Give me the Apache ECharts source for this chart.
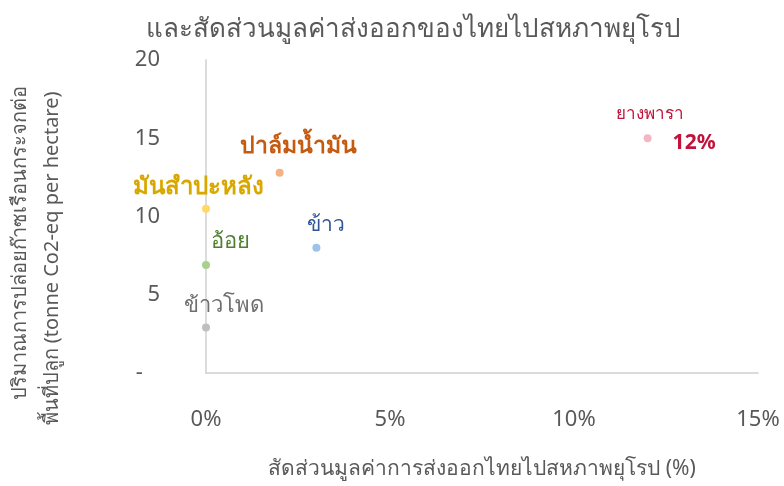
<!DOCTYPE html>
<html>
<head>
<meta charset="utf-8">
<script src="https://cdn.jsdelivr.net/npm/echarts@6/dist/echarts.min.js"></script>
<style>html,body{margin:0;padding:0;background:#fff;}#c{width:784px;height:486px;}</style>
</head>
<body>
<div id="c"></div>
<script>
// ---- data ----
const crops = ['ยางพารา', 'ปาล์มน้ำมัน', 'มันสำปะหลัง', 'ข้าว', 'อ้อย', 'ข้าวโพด'];
const exportShare = [12, 2, 0, 3, 0, 0];          // % of Thai exports to EU
const emission = [15, 12.8, 10.5, 8, 6.9, 2.9];     // tonne CO2-eq per hectare
const xTicks = [0, 5, 10, 15];
const yTicks = [0, 5, 10, 15, 20];
const titleText = 'และสัดส่วนมูลค่าส่งออกของไทยไปสหภาพยุโรป';
const xTitle = 'สัดส่วนมูลค่าการส่งออกไทยไปสหภาพยุโรป (%)';
const yTitleLines = ['ปริมาณการปล่อยก๊าซเรือนกระจกต่อ', 'พื้นที่ปลูก (tonne Co2-eq per hectare)'];

// ---- styles ----
const dotColors = ['#f4b6c4', '#f4b183', '#ffd966', '#9dc3e6', '#a9d18e', '#bfbfbf'];
const labelColors = ['#c0143c', '#c55a11', '#d9a800', '#2f5597', '#4e7f2e', '#6f6f6f'];
const labelOffsets = [[18, -11], [19, -26], [-8, -22], [10, -23], [24, -23], [18, -22]];
const labelSizes = [17, 23, 24, 21, 22, 22];
const labelWeights = ['normal', 'bold', 'bold', 'normal', 'normal', 'normal'];
const FONT = '"Noto Sans", "DejaVu Sans", sans-serif';

const series = crops.map((name, i) => {
  const isFirst = i === 0;
  return {
    type: 'scatter',
    name: name,
    symbolSize: 8,
    itemStyle: { color: dotColors[i], opacity: 1 },
    data: [[exportShare[i], emission[i]]],
    label: {
      show: true,
      position: 'inside',
      offset: labelOffsets[i],
      fontFamily: FONT,
      fontSize: labelSizes[i],
      fontWeight: labelWeights[i],
      color: labelColors[i],
      formatter: isFirst ? ('{a|' + name + '}\n{b|' + exportShare[i] + '%}') : name,
      rich: isFirst ? {
        a: { fontFamily: FONT, fontSize: 17, color: labelColors[i], lineHeight: 32, align: 'left' },
        b: { fontFamily: FONT, fontSize: 21, fontWeight: 'bold', color: labelColors[i], padding: [0, 0, 0, 57], lineHeight: 26, align: 'left' }
      } : undefined
    },
    z: 3
  };
});

const chart = echarts.init(document.getElementById('c'), null, { renderer: 'canvas' });
chart.setOption({
  backgroundColor: '#fff',
  animation: false,
  title: {
    text: titleText,
    left: 408, top: 12, textAlign: 'center',
    textStyle: { fontFamily: FONT, fontSize: 26, fontWeight: 'normal', color: '#595959' }
  },
  grid: { left: 206, right: 26, top: 60, bottom: 113, containLabel: false, outerBoundsMode: 'none' },
  xAxis: {
    type: 'value', min: 0, max: 15, interval: 5,
    name: xTitle, nameLocation: 'middle', nameGap: 86,
    nameTextStyle: { fontFamily: FONT, fontSize: 21, color: '#595959' },
    axisLine: { show: true, lineStyle: { color: '#d0d0d0', width: 1.5 } },
    axisTick: { show: false },
    splitLine: { show: false },
    axisLabel: { margin: 36, fontFamily: FONT, fontSize: 22, color: '#595959',
      formatter: v => xTicks.includes(v) ? v + '%' : '' }
  },
  yAxis: {
    type: 'value', min: 0, max: 20, interval: 5,
    name: '{a|' + yTitleLines[0] + '}\n{b|' + yTitleLines[1] + '}',
    nameLocation: 'middle', nameGap: 138, nameRotate: 90,
    nameTextStyle: {
      fontFamily: FONT, fontSize: 20, color: '#595959', lineHeight: 32,
      padding: [0, 84, 0, 0],
      rich: {
        a: { fontFamily: FONT, fontSize: 20, color: '#595959', lineHeight: 32, padding: [0, 0, 0, 32] },
        b: { fontFamily: FONT, fontSize: 20, color: '#595959', lineHeight: 32 }
      }
    },
    axisLine: { show: true, onZero: false, lineStyle: { color: '#d0d0d0', width: 1.5 } },
    axisTick: { show: false },
    splitLine: { show: false },
    axisLabel: { margin: 46, fontFamily: FONT, fontSize: 22, color: '#595959',
      formatter: v => yTicks.includes(v) ? (v === 0 ? '-   ' : String(v)) : '' }
  },
  series: series
});
</script>
</body>
</html>
